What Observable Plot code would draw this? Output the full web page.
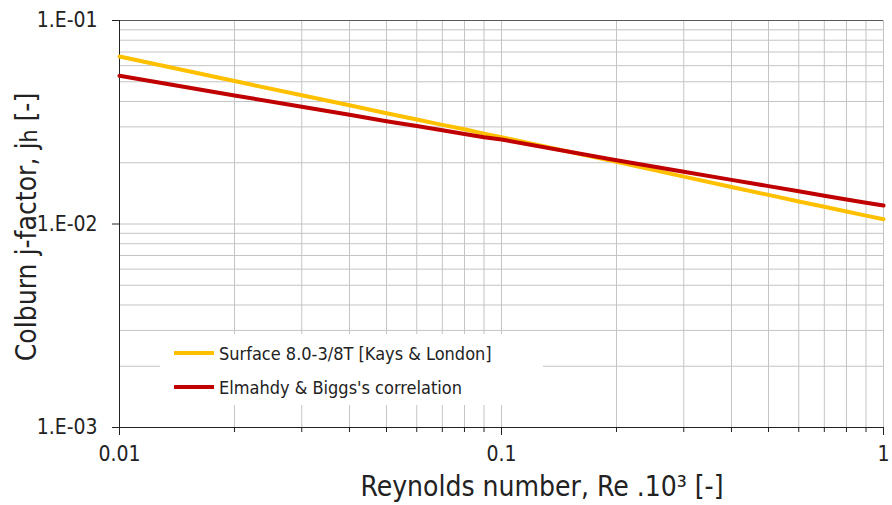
<!DOCTYPE html>
<html>
<head>
<meta charset="utf-8">
<script src="https://cdn.jsdelivr.net/npm/d3@7"></script>
<script src="https://cdn.jsdelivr.net/npm/@observablehq/plot@0.6"></script>
<style>
  html, body { margin: 0; padding: 0; background: #fff; }
  #wrap { position: relative; width: 892px; height: 505px; font-family: "DejaVu Sans Condensed", "DejaVu Sans", sans-serif; color: #222; }
  #wrap svg { position: absolute; left: 0; top: 0; }
  .xtitle { position: absolute; left: 542px; top: 473px; transform: translateX(-50%); line-height: 1; font-size: 28px; white-space: nowrap; }
  .ytitle { position: absolute; left: 26px; top: 227px; transform: translate(-50%, -50%) rotate(-90deg); font-size: 28px; white-space: nowrap; }
  .ytitle .sub { font-size: 23px; position: relative; top: 1px; }
  .legend { position: absolute; left: 160px; top: 334px; width: 383px; height: 71px; background: #fff; font-size: 18px; }
  .legend .row { position: absolute; left: 14px; height: 22px; display: flex; align-items: center; white-space: nowrap; }
  .legend .sw { display: inline-block; width: 40px; height: 4px; margin-right: 5px; }
</style>
</head>
<body>
<div id="wrap"></div>
<script>
// Reynolds number x 10^3 (sample points)
const reynolds = [0.01, 0.02, 0.03, 0.04, 0.05, 0.06, 0.07, 0.08, 0.09, 0.1, 0.2, 0.3, 0.4, 0.5, 0.6, 0.7, 0.8, 0.9, 1.0];
// Surface 8.0-3/8T [Kays & London]
const kaysLondon = [0.0665, 0.0504, 0.0429, 0.0383, 0.0350, 0.0326, 0.0307, 0.0292, 0.0278, 0.0267, 0.0202, 0.0171, 0.0152, 0.0139, 0.0129, 0.01215, 0.01153, 0.01099, 0.01056];
// Elmahdy & Biggs's correlation
const elmahdyBiggs = [0.0535, 0.0428, 0.0377, 0.0344, 0.0320, 0.0303, 0.0289, 0.0277, 0.0267, 0.0260, 0.02056, 0.01807, 0.01648, 0.01535, 0.01448, 0.01378, 0.01320, 0.01273, 0.01232];

const seriesNames = ["Surface 8.0-3/8T [Kays & London]", "Elmahdy & Biggs's correlation"];
const seriesColors = ["#FFC000", "#C00000"];

const xMajor = [0.01, 0.1, 1];
const xMajorLabels = ["0.01", "0.1", "1"];
const yMajor = [0.001, 0.01, 0.1];
const yMajorLabels = ["1.E-03", "1.E-02", "1.E-01"];

const xTitle = "Reynolds number, Re .10³ [-]";

const xAll = [];
for (const d of [0.01, 0.1]) for (let k = 1; k <= 9; k++) xAll.push(+(d * k).toPrecision(3));
xAll.push(1);
const xMinor = xAll.filter(v => !xMajor.includes(v));
const yAll = [];
for (const d of [0.001, 0.01]) for (let k = 1; k <= 9; k++) yAll.push(+(d * k).toPrecision(3));
yAll.push(0.1);

const rows = [];
reynolds.forEach((x, i) => {
  rows.push({x, y: kaysLondon[i], s: seriesNames[0]});
});
reynolds.forEach((x, i) => {
  rows.push({x, y: elmahdyBiggs[i], s: seriesNames[1]});
});

const chart = Plot.plot({
  width: 892,
  height: 505,
  marginLeft: 119,
  marginRight: 9,
  marginTop: 20,
  marginBottom: 78,
  style: {fontFamily: "'DejaVu Sans Condensed', 'DejaVu Sans', sans-serif", color: "#222", background: "transparent"},
  x: {type: "log", domain: [0.01, 1], axis: null},
  y: {type: "log", domain: [0.001, 0.1], axis: null},
  color: {domain: seriesNames, range: seriesColors},
  marks: [
    Plot.gridX(xAll, {stroke: "#c4c4c4", strokeOpacity: 1}),
    Plot.gridY(yAll, {stroke: "#c4c4c4", strokeOpacity: 1}),
    Plot.ruleY([0.1], {stroke: "#595959", strokeWidth: 1}),
    Plot.axisX(xMinor, {tickSize: 5, tickFormat: () => "", stroke: "#222", label: null}),
    Plot.axisX(xMajor, {tickSize: 8, tickPadding: 11, tickFormat: (d) => xMajorLabels[xMajor.indexOf(d)], fontSize: 21, stroke: "#222", fill: "#222", label: null}),
    Plot.axisY(yMajor, {tickSize: 7, tickPadding: 15, tickFormat: d => yMajorLabels[yMajor.indexOf(d)], fontSize: 21, stroke: "#222", fill: "#222", label: null}),
    Plot.ruleX([0.01], {stroke: "#222"}),
    Plot.ruleY([0.001], {stroke: "#222"}),
    Plot.line(rows, {x: "x", y: "y", z: "s", stroke: "s", strokeWidth: 4, curve: "linear"})
  ]
});

const wrap = document.getElementById("wrap");
wrap.appendChild(chart);

const xt = document.createElement("div");
xt.className = "xtitle";
xt.textContent = xTitle;
wrap.appendChild(xt);

const yt = document.createElement("div");
yt.className = "ytitle";
yt.innerHTML = 'Colburn j-factor, j<span class="sub">h</span> [-]';
wrap.appendChild(yt);

const lg = document.createElement("div");
lg.className = "legend";
seriesNames.forEach((n, i) => {
  const r = document.createElement("div");
  r.className = "row";
  r.style.top = (i === 0 ? 8 : 42) + "px";
  const sw = document.createElement("span");
  sw.className = "sw";
  sw.style.background = seriesColors[i];
  const t = document.createElement("span");
  t.textContent = n;
  r.appendChild(sw);
  r.appendChild(t);
  lg.appendChild(r);
});
wrap.appendChild(lg);
</script>
</body>
</html>
